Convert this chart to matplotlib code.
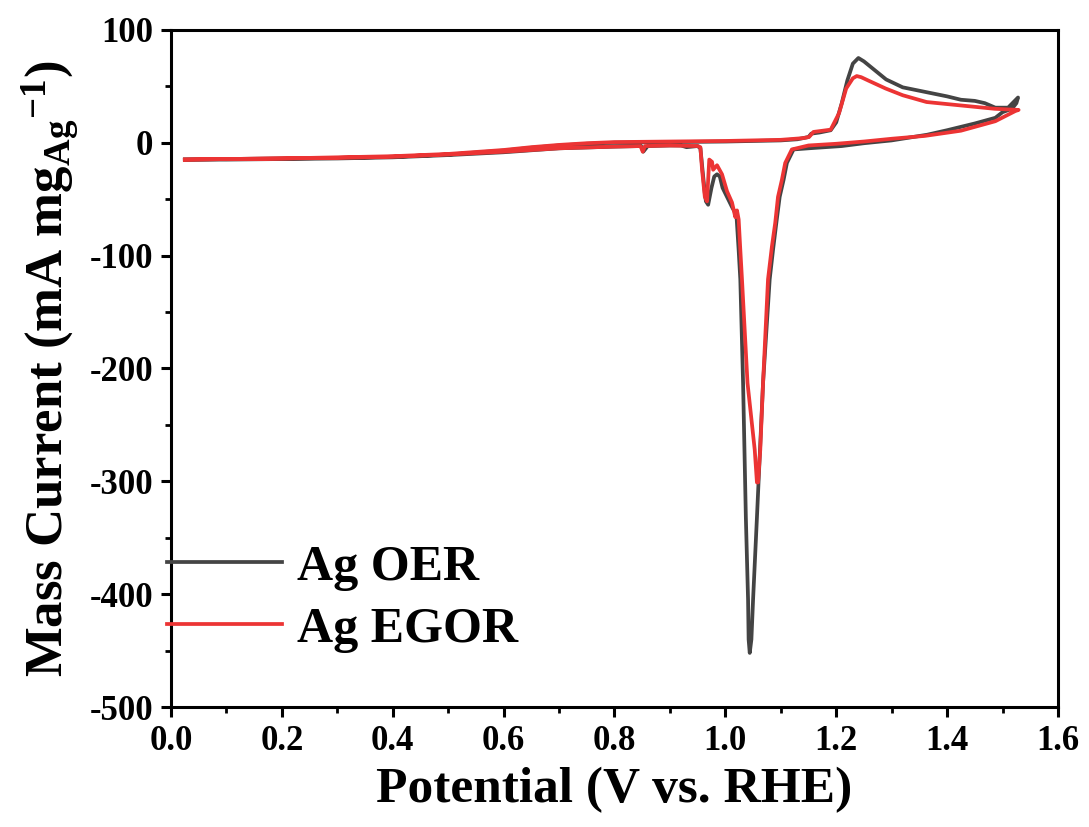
import matplotlib
matplotlib.use('Agg')
import matplotlib.pyplot as plt
from matplotlib.ticker import MultipleLocator

plt.rcParams['font.family'] = ['Liberation Serif', 'DejaVu Serif']
plt.rcParams['font.weight'] = 'bold'
plt.rcParams['axes.labelweight'] = 'bold'
plt.rcParams['mathtext.fontset'] = 'custom'
plt.rcParams['mathtext.rm'] = 'Liberation Serif:bold'
plt.rcParams['mathtext.bf'] = 'Liberation Serif:bold'
plt.rcParams['mathtext.it'] = 'Liberation Serif:bold'

# Ag OER: anodic sweep then cathodic sweep back
oer_v = [0.025, 0.1, 0.2, 0.3, 0.4, 0.5, 0.6, 0.65, 0.7, 0.75, 0.8, 0.9, 1.0, 1.1, 1.13,
         1.15, 1.155, 1.17, 1.19, 1.2, 1.21, 1.22, 1.23, 1.24, 1.25, 1.265, 1.29, 1.32,
         1.36, 1.40, 1.425, 1.45, 1.468, 1.487, 1.51, 1.52, 1.528,
         1.525, 1.517, 1.50, 1.487, 1.45, 1.425, 1.40, 1.364, 1.30, 1.25, 1.21, 1.15,
         1.123, 1.111, 1.105, 1.098, 1.092, 1.086, 1.080, 1.068, 1.057, 1.050, 1.047, 1.044,
         1.042, 1.041, 1.037, 1.032, 1.027, 1.024, 1.020, 1.012, 1.003, 0.995, 0.990, 0.985,
         0.980, 0.975, 0.969, 0.965, 0.963, 0.958, 0.955, 0.950, 0.93, 0.92, 0.9, 0.86, 0.852,
         0.848, 0.8, 0.7, 0.6, 0.5, 0.4, 0.3, 0.2, 0.1, 0.025]
oer_j = [-15, -14.5, -14, -13.5, -12.5, -10.5, -7, -4.5, -2.5, -1, 0, 0.5, 1, 2, 3,
         5, 8, 9, 11, 18, 35, 55, 70, 75, 72, 66, 56, 49,
         45, 41, 38, 37, 35, 31, 31, 36, 40,
         35, 30, 27, 22, 17, 14, 11, 7, 2, -0.5, -3, -5,
         -6, -18, -33, -48, -71, -95, -121, -213, -332, -405, -440, -452,
         -440, -405, -332, -213, -121, -95, -64, -57, -48, -40, -30, -28,
         -30, -40, -55, -52, -45, -20, -5, -3, -4, -2.5, -2.5, -3, -8,
         -3, -3.5, -5, -8.5, -11, -13, -14, -14.5, -15, -15]

# Ag EGOR
egor_v = [0.025, 0.1, 0.2, 0.3, 0.4, 0.5, 0.6, 0.65, 0.7, 0.75, 0.8, 0.9, 1.0, 1.1, 1.14,
          1.151, 1.159, 1.19, 1.205, 1.218, 1.23, 1.237, 1.245, 1.258, 1.289, 1.32, 1.363,
          1.424, 1.486, 1.529,
          1.523, 1.487, 1.425, 1.36, 1.301, 1.25, 1.2, 1.15,
          1.120, 1.108, 1.102, 1.095, 1.090, 1.084, 1.077, 1.068, 1.063, 1.059,
          1.057, 1.053, 1.040, 1.030, 1.027, 1.025, 1.024, 1.021, 1.018, 1.012, 1.003, 0.994,
          0.985, 0.978, 0.976, 0.971, 0.969, 0.967, 0.963, 0.958, 0.955, 0.950, 0.9,
          0.855, 0.851, 0.847, 0.8, 0.7, 0.6, 0.5, 0.4, 0.3, 0.2, 0.1, 0.025]
egor_j = [-15, -14.5, -14, -13, -12, -10, -6.5, -4, -2, -0.5, 0.5, 1, 1.5, 2.5, 4,
          5, 9.5, 11.5, 26, 48, 57, 59, 58, 55, 48, 42, 36,
          33, 30, 29,
          28, 19, 10.6, 6, 3.5, 1, -1, -2.5,
          -6, -18, -33, -48, -71, -92, -121, -213, -272, -301,
          -301, -272, -213, -121, -95, -77, -68, -60, -66, -53, -43, -28,
          -20, -24, -17, -15, -33, -52, -48, -24, -4, -3, -2.5,
          -3, -8, -3, -3.5, -5, -8, -10.5, -12.5, -13.5, -14, -14.5, -15]

fig = plt.figure(figsize=(10.89, 8.27), dpi=100)
ax = fig.add_axes([0.157, 0.145, 0.8145, 0.819])

ax.plot(oer_v, oer_j, color='#444444', lw=2.7, label='Ag OER', solid_joinstyle='round')
ax.plot(egor_v, egor_j, color='#ec3434', lw=2.7, label='Ag EGOR', solid_joinstyle='round')

ax.set_xlim(0.0, 1.6)
ax.set_ylim(-500, 100)
ax.xaxis.set_major_locator(MultipleLocator(0.2))
ax.xaxis.set_minor_locator(MultipleLocator(0.1))
ax.yaxis.set_major_locator(MultipleLocator(100))
ax.yaxis.set_minor_locator(MultipleLocator(50))
ax.xaxis.set_major_formatter(plt.FuncFormatter(lambda v, p: f'{v:.1f}'))
ax.yaxis.set_major_formatter(plt.FuncFormatter(lambda v, p: f'{v:.0f}'))

for s in ax.spines.values():
    s.set_linewidth(2.2)
ax.tick_params(which='major', direction='out', length=7, width=2.2, labelsize=25, pad=6)
ax.tick_params(which='minor', direction='out', length=4, width=2.0)
ax.tick_params(axis='x', which='both', top=False)
ax.tick_params(axis='y', which='both', right=False)

ax.set_xlabel('Potential (V vs. RHE)', fontsize=37, fontweight='bold', labelpad=6)
ax.set_ylabel(r'Mass Current (mA mg$_{\mathbf{Ag}}$$^{\mathbf{-1}}$)', fontsize=38,
              fontweight='bold', labelpad=6)

ax.legend(loc='center left', bbox_to_anchor=(-0.004, 0.16), frameon=False, fontsize=36,
          handlelength=2.3, handletextpad=0.3, labelspacing=0.32, borderpad=0, borderaxespad=0)

fig.savefig('out.png', dpi=100)
